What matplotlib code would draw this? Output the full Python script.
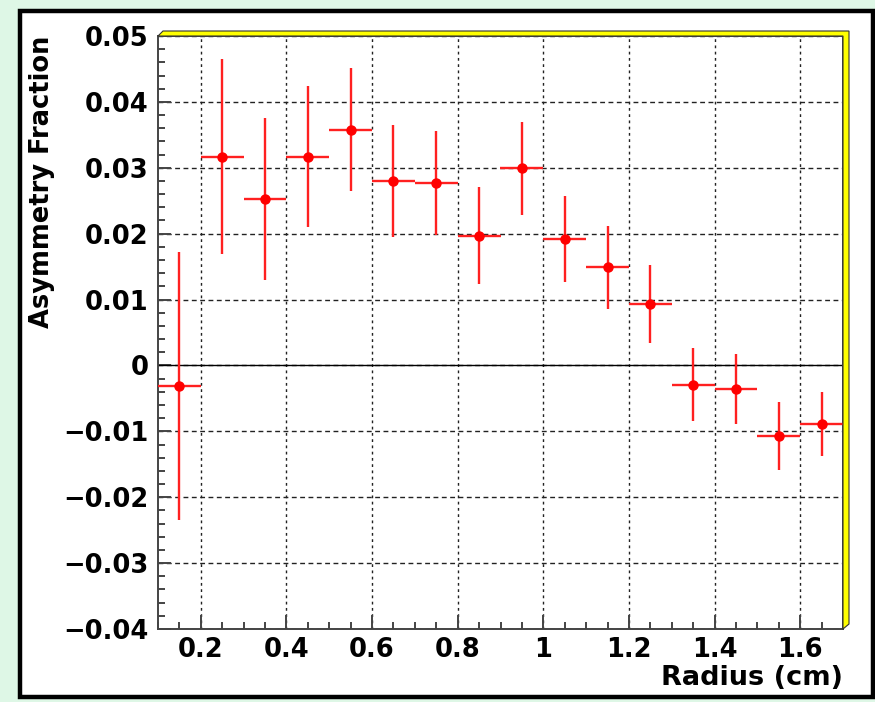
import matplotlib
matplotlib.use("Agg")
import matplotlib.pyplot as plt
from matplotlib.patches import Rectangle, Polygon
from matplotlib.ticker import MultipleLocator

# data
radius = [0.15, 0.25, 0.35, 0.45, 0.55, 0.65, 0.75, 0.85,
          0.95, 1.05, 1.15, 1.25, 1.35, 1.45, 1.55, 1.65]
asym = [-0.0031, 0.0317, 0.0252, 0.0317, 0.0358, 0.0280, 0.0277, 0.0197,
        0.0299, 0.0192, 0.0149, 0.0093, -0.0029, -0.0036, -0.0107, -0.0089]
asym_err = [0.0203, 0.0148, 0.0123, 0.0107, 0.0094, 0.0085, 0.0079, 0.0074,
            0.0070, 0.0065, 0.0063, 0.0059, 0.0056, 0.0053, 0.0051, 0.0049]
bin_half = [0.05] * len(radius)

W, H = 875, 702
font = dict(family="DejaVu Sans", weight="bold")


def fx(x):
    return x / W


def fy(y):
    return 1 - y / H


fig = plt.figure(figsize=(W / 100, H / 100), dpi=100)
fig.patch.set_facecolor("#def7e6")

# canvas (white pad with black border)
fig.add_artist(Rectangle((fx(20), fy(697)), fx(873) - fx(20), fy(11) - fy(697),
                         transform=fig.transFigure, facecolor="white",
                         edgecolor="black", linewidth=3.2, zorder=0))

# axes frame
L, R, T, B = 158, 843, 36, 629
ax = fig.add_axes([fx(L), fy(B), fx(R) - fx(L), fy(T) - fy(B)])
ax.set_xlim(0.1, 1.7)
ax.set_ylim(-0.04, 0.05)

# yellow bevel shadow on top and right
bevel = Polygon([(fx(L), fy(T)), (fx(L + 5), fy(T - 5)), (fx(R + 6), fy(T - 5)),
                 (fx(R + 6), fy(B - 5)), (fx(R), fy(B)), (fx(R), fy(T))],
                closed=True, transform=fig.transFigure, facecolor="#ffff00",
                edgecolor="#333333", linewidth=0.8, zorder=1)
fig.add_artist(bevel)

ax.xaxis.set_major_locator(MultipleLocator(0.2))
ax.xaxis.set_minor_locator(MultipleLocator(0.05))
ax.yaxis.set_major_locator(MultipleLocator(0.01))
ax.yaxis.set_minor_locator(MultipleLocator(0.002))

# vertical grid dotted, horizontal grid dashed
ax.xaxis.grid(True, which="major", color="#222222", linestyle=(0, (2, 2.5)), linewidth=1)
ax.yaxis.grid(True, which="major", color="#222222", linestyle=(0, (3.5, 2.5)), linewidth=1)
ax.axhline(0, color="black", linewidth=1)

ax.tick_params(which="both", direction="in", top=False, right=False,
               color="#444444", width=1.4)
ax.tick_params(axis="y", which="major", length=9, pad=7)
ax.tick_params(axis="y", which="minor", length=5)
ax.tick_params(axis="x", which="major", length=10, pad=6)
ax.tick_params(axis="x", which="minor", length=5)

for sp in ax.spines.values():
    sp.set_color("#444444")
    sp.set_linewidth(1.4)


def fmt(v, pos):
    s = "%g" % round(v, 3)
    return s.replace("-", "\u2212")


ax.xaxis.set_major_formatter(plt.FuncFormatter(fmt))
ax.yaxis.set_major_formatter(plt.FuncFormatter(fmt))
for lab in ax.get_xticklabels() + ax.get_yticklabels():
    lab.set_fontsize(18.5)
    lab.set_fontfamily(font["family"])
    lab.set_fontweight(font["weight"])

ax.errorbar(radius, asym, yerr=asym_err, xerr=bin_half, fmt="o", color="#ff0000",
            ecolor="#ff2020", elinewidth=1.7, markersize=6.5, capsize=0, zorder=5)

fig.text(fx(R), fy(678), "Radius (cm)", ha="right", va="center",
         fontsize=19.5, **font)
fig.text(fx(42), fy(T), "Asymmetry Fraction", ha="center", va="top",
         rotation=90, fontsize=18.5, **font)

fig.savefig("out.png", dpi=100, facecolor=fig.get_facecolor())
